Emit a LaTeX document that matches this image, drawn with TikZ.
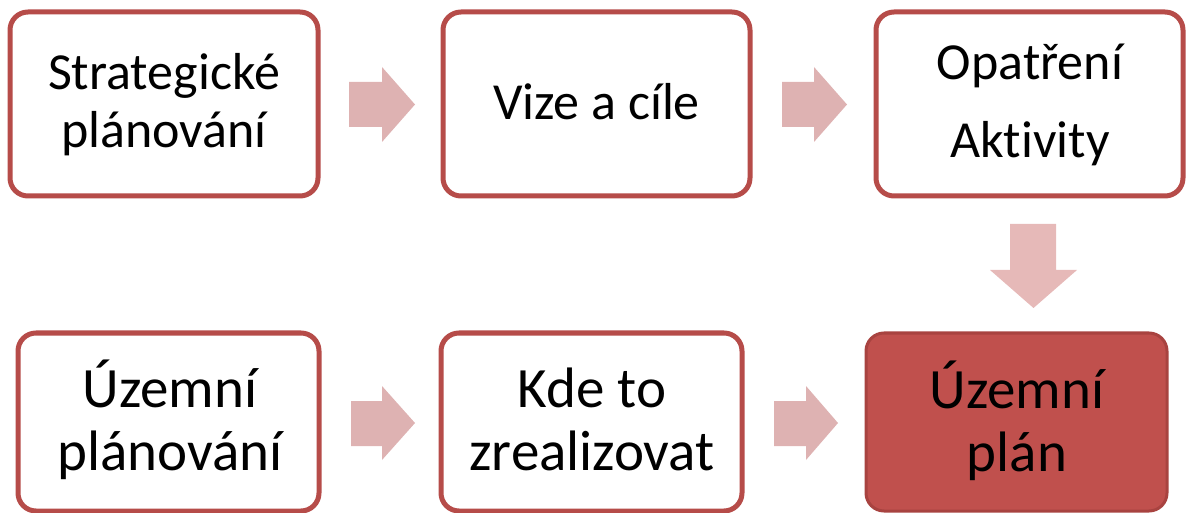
\documentclass[tikz,border=0pt]{standalone}
\usepackage{fontspec}
\setmainfont{Carlito}[Ligatures=NoCommon]
\definecolor{boxline}{RGB}{182,76,73}
\definecolor{arrowfill}{RGB}{222,178,178}
\definecolor{arrowfillb}{RGB}{230,185,184}
\definecolor{planfill}{RGB}{192,80,77}
\definecolor{planline}{RGB}{168,67,64}
\begin{document}
\begin{tikzpicture}[x=1pt,y=-1pt,
  box/.style={draw=boxline,line width=5pt,rounded corners=18pt,fill=white,inner sep=0pt},
  planbox/.style={draw=planline,line width=3pt,rounded corners=18pt,fill=planfill,inner sep=0pt},
  toptxt/.style={inner sep=0pt,anchor=base,font=\fontsize{52}{58}\selectfont},
  bottxt/.style={inner sep=0pt,anchor=base,font=\fontsize{57}{63}\selectfont},
  blockarrow/.style={fill=arrowfill,draw=none}]
\useasboundingbox (0,0) rectangle (1187,513);
% boxes
\node[box,minimum width=308pt,minimum height=184pt] (b1) at (164,104) {};
\node[box,minimum width=307pt,minimum height=184pt] (b2) at (596.5,104) {};
\node[box,minimum width=307pt,minimum height=184pt] (b3) at (1029.5,104) {};
\node[box,minimum width=301pt,minimum height=178pt] (b4) at (168.5,422) {};
\node[box,minimum width=301pt,minimum height=178pt] (b5) at (591.5,422) {};
\node[planbox,minimum width=301pt,minimum height=178pt] (b6) at (1016.5,422) {};
% texts
\node[toptxt] (t1) at (164,90) {\begin{tabular}[t]{@{}c@{}}Strategické\\plánování\end{tabular}};
\node[toptxt] (t2) at (596.5,120) {Vize a cíle};
\node[toptxt,font=\fontsize{52}{78}\selectfont] (t3) at (1030,80) {\begin{tabular}[t]{@{}c@{}}Opatření\\Aktivity\end{tabular}};
\node[bottxt] (t4) at (170,407) {\begin{tabular}[t]{@{}c@{}}Územní\\plánování\end{tabular}};
\node[bottxt] (t5) at (592,407) {\begin{tabular}[t]{@{}c@{}}Kde to\\zrealizovat\end{tabular}};
\node[bottxt] (t6) at (1017,408) {\begin{tabular}[t]{@{}c@{}}Územní\\plán\end{tabular}};
% block arrows
\fill[blockarrow] (349,82) -- (382,82) -- (382,67) -- (415,104.5) -- (382,142) -- (382,127) -- (349,127) -- cycle;
\fill[blockarrow] (782,82) -- (814,82) -- (814,67) -- (847,104.5) -- (814,142) -- (814,127) -- (782,127) -- cycle;
\fill[blockarrow,fill=arrowfillb] (1010,224) -- (1056,224) -- (1056,270) -- (1077,270) -- (1033.5,308) -- (990,270) -- (1010,270) -- cycle;
\fill[blockarrow] (351,401) -- (382,401) -- (382,386) -- (415,423) -- (382,460) -- (382,446) -- (351,446) -- cycle;
\fill[blockarrow] (774,401) -- (806,401) -- (806,386) -- (838,423) -- (806,460) -- (806,446) -- (774,446) -- cycle;
\end{tikzpicture}
\end{document}
